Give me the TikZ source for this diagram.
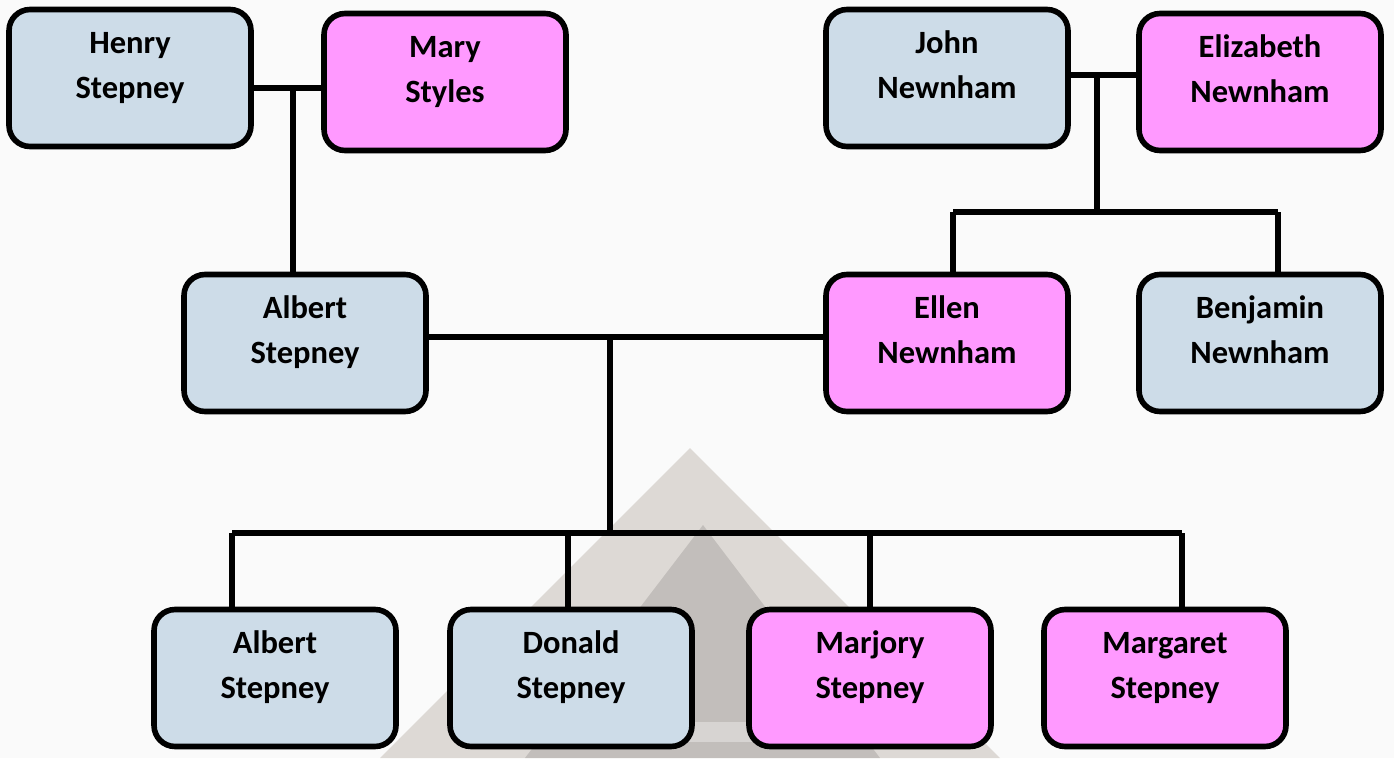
\documentclass[tikz,border=0pt]{standalone}
\usepackage{fontspec}
\setmainfont{Carlito}
\usepackage{tikz}
\usetikzlibrary{calc,positioning}

\definecolor{boyblue}{RGB}{205,220,232}
\definecolor{girlpink}{RGB}{255,153,255}
\definecolor{roofbrown}{RGB}{120,100,85}

\tikzset{
  person/.style={draw=black,line width=3.2pt,rounded corners=0.42cm,
    minimum width=4.84cm,minimum height=2.74cm,inner sep=0pt,
    font=\fontsize{18.5}{25.6}\selectfont\bfseries},
  boy/.style={person,fill=boyblue},
  girl/.style={person,fill=girlpink},
  link/.style={line width=3pt,black}
}
\newcommand{\who}[2]{\raisebox{6pt}[\height][\depth]{\begin{tabular}{@{}c@{}}#1\\#2\end{tabular}}}

\begin{document}
\begin{tikzpicture}[x=0.02cm,y=-0.02cm]
  \useasboundingbox (0,0) rectangle (1394,758);
  \fill[white!98!black] (0,0) rectangle (1394,758);

  % faded roof behind the children
  \fill[roofbrown,opacity=0.22] (690,448) -- (1000,758) -- (380,758) -- cycle;
  \fill[black,opacity=0.12] (703,525) -- (880,758) -- (525,758) -- cycle;
  \fill[white,opacity=0.35] (560,722) rectangle (850,742);

  % Parents of Albert
  \node[boy]  (hs) at (130,78) {\who{Henry}{Stepney}};
  \node[girl] (ms) at (445,82) {\who{Mary}{Styles}};

  % Parents of Ellen
  \node[boy]  (jn) at (947,78)  {\who{John}{Newnham}};
  \node[girl] (en) at (1260,82) {\who{Elizabeth}{Newnham}};

  % Middle row
  \node[boy]  (as) at (305,343)  {\who{Albert}{Stepney}};
  \node[girl] (el) at (947,343)  {\who{Ellen}{Newnham}};
  \node[boy]  (bn) at (1260,343) {\who{Benjamin}{Newnham}};

  % Children
  \node[boy]  (a2) at (275,678)  {\who{Albert}{Stepney}};
  \node[boy]  (ds) at (571,678)  {\who{Donald}{Stepney}};
  \node[girl] (mj) at (870,678)  {\who{Marjory}{Stepney}};
  \node[girl] (mg) at (1165,678) {\who{Margaret}{Stepney}};

  % Henry + Mary
  \coordinate (hm) at (293,88);
  \draw[link] (hs.east |- hm) -- (ms.west |- hm);
  \draw[link] (hm) -- (as.north -| hm);

  % John + Elizabeth
  \coordinate (je) at (1097,75);
  \coordinate (jekids) at (1097,212);
  \draw[link] (jn.east |- je) -- (en.west |- je);
  \draw[link] (je) -- (jekids);
  \draw[link] (953,212) -- (1278,212);
  \draw[link] (953,212) -- (el.north -| 953,0);
  \draw[link] (1278,212) -- (bn.north -| 1278,0);

  % Albert + Ellen
  \coordinate (ae) at (610,337);
  \coordinate (aekids) at (610,533);
  \draw[link] (as.east |- ae) -- (el.west |- ae);
  \draw[link] (ae) -- (aekids);
  \draw[link] (232,533) -- (1182,533);
  \foreach \x/\kid in {232/a2,568/ds,870/mj,1182/mg} {
    \draw[link] (\x,533) -- (\kid.north -| \x,0);
  }
\end{tikzpicture}
\end{document}
